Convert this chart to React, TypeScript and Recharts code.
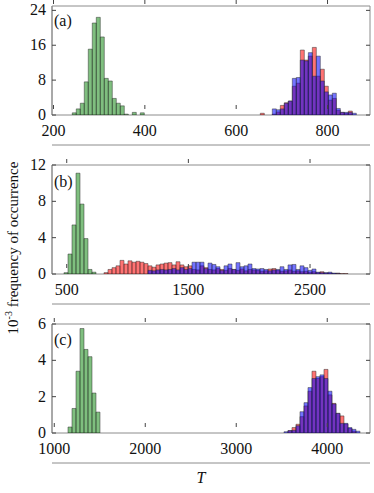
import { Bar, BarChart, ReferenceArea, XAxis, YAxis } from "recharts";

// panel (a)
const aXTicks = [200, 400, 600, 800];
const aYTicks = [0, 8, 16, 24];
const aGreen = [0.5, 1.4, 2.7, 7.6, 15.1, 21.1, 22.4, 17.9, 8.4, 7.8, 3.8, 2.7, 2.1, 0.2, 0, 0.6, 0, 0.5];
// red / blue start at bin 47
const aRed = [0.4, 0, 0, 0.2, 0.7, 2.2, 2.8, 3.2, 6.6, 7.3, 14.9, 12.6, 13.5, 15.5, 8.9, 10.5, 6.6, 3.4, 3.8, 1.1, 0.6, 0.4, 0.9, 0];
const aBlue = [0, 0, 0, 1.4, 1.2, 1.4, 2.7, 3.2, 8.4, 8.6, 12.6, 12.4, 14.3, 8.9, 13.5, 7.8, 5.3, 4.6, 5.0, 1.5, 0.6, 0.6, 0.6, 0.4];

// panel (b)
const bXTicks = [500, 1500, 2500];
const bYTicks = [0, 4, 8, 12];
const bGreen = [0.15, 2.2, 5.4, 11.1, 7.7, 3.9, 0.5, 0.2];
// red starts at bin 10
const bRed = [
  0.15, 0.5, 0.7, 0.9, 1.5, 1.1, 1.45, 1.3, 1.4, 1.3, 1.15, 0.9, 0.75, 1.0, 1.1, 1.2, 1.25, 1.0, 1.35, 1.0,
  0.8, 0.9, 0.5, 0.45, 0.9, 0.7, 0.5, 0.45, 0.6, 0.5, 0.4, 0.6, 0.5, 0.4, 0.55, 0.35, 0.5, 0.45, 0.4, 0.3,
  0.35, 0.55, 0.6, 0.4, 0.3, 0.35, 0.45, 0.3, 0.35, 0.25, 0.3, 0.2, 0.25, 0.15, 0.25, 0.1, 0.1, 0.05, 0.1, 0.05, 0.05,
];
// blue starts at bin 21
const bBlue = [
  0.4, 0.35, 0.45, 0.5, 0.45, 0.5, 0.6, 0.45, 0.7, 0.5, 0.6, 1.3, 1.3, 1.3, 0.6, 1.2, 1.05, 0.8, 0.4, 0.9,
  1.1, 0.5, 1.25, 0.8, 0.9, 1.1, 0.6, 0.55, 0.6, 0.5, 0.35, 0.45, 0.5, 0.8, 0.5, 1.0, 1.05, 0.5, 0.9, 0.7,
  0.4, 0.55, 0.2, 0.15, 0.15, 0.2, 0.1, 0.05,
];

// panel (c)
const cXTicks = [1000, 2000, 3000, 4000];
const cYTicks = [0, 2, 4, 6];
const cGreen = [0.33, 1.35, 3.4, 5.75, 4.6, 4.2, 2.2, 1.15];
// red / blue start at bin 54
const cRed = [0, 0.13, 0.3, 0.48, 0.9, 1.49, 2.3, 3.4, 3.0, 3.1, 3.5, 2.1, 1.63, 1.08, 0.94, 0.5, 0.25, 0.1, 0];
const cBlue = [0.07, 0.13, 0.15, 0.4, 1.17, 1.67, 2.5, 3.0, 3.1, 3.2, 3.0, 2.3, 1.6, 1.08, 0.53, 0.53, 0.3, 0.2, 0.1];

const PLOT_W = 318;
const PLOT_H = 109;
const AXIS_H = 36;
const TOP_PAD = 12;
const FONT = "'Liberation Serif', 'DejaVu Serif', serif";
const FRAME = "#8c8c8c";
const TICK = "#444";
const txt = { fontFamily: FONT, fontSize: 16, fill: "#111" };

type Series = { key: string; values: number[]; from: number };

function makeRows(start: number, width: number, count: number, series: Series[]) {
  const rows: Record<string, number | null>[] = [];
  for (let k = 0; k < count; k++) {
    const row: Record<string, number | null> = { x: start + (k + 0.5) * width };
    series.forEach((s) => {
      const v = s.values[k - s.from];
      row[s.key] = v ? v : null;
    });
    rows.push(row);
  }
  return rows;
}

const aRows = makeRows(241.1, 8.76, 71, [
  { key: "g", values: aGreen, from: 0 },
  { key: "r", values: aRed, from: 47 },
  { key: "b", values: aBlue, from: 47 },
]);
const bRows = makeRows(477.6, 32.88, 71, [
  { key: "g", values: bGreen, from: 0 },
  { key: "r", values: bRed, from: 10 },
  { key: "b", values: bBlue, from: 21 },
]);
const cRows = makeRows(1150.8, 43.96, 73, [
  { key: "g", values: cGreen, from: 0 },
  { key: "r", values: cRed, from: 54 },
  { key: "b", values: cBlue, from: 54 },
]);

// recharts hands the tick the bottom of the axis band, so step back up to the plot edge
const XTick = ({ x, y, payload }: any) => {
  const base = y - AXIS_H;
  return (
    <g>
      <line x1={x} x2={x} y1={base} y2={base - 4} stroke={TICK} />
      <line x1={x} x2={x} y1={base - PLOT_H} y2={base - PLOT_H + 4} stroke={TICK} />
      <text x={x} y={base + 27} textAnchor="middle" style={txt}>
        {payload.value}
      </text>
    </g>
  );
};

const YTick = ({ x, y, payload }: any) => (
  <g>
    <line x1={x} x2={x + 4} y1={y} y2={y} stroke={TICK} />
    <line x1={x + PLOT_W} x2={x + PLOT_W - 4} y1={y} y2={y} stroke={TICK} />
    <text x={x - 6} y={y + 5} textAnchor="end" style={txt}>
      {payload.value}
    </text>
  </g>
);

function Panel({ plotTop, rows, xDomain, yDomain, xTicks, yTicks }: any) {
  const edge = { stroke: "#2a2a2a", strokeWidth: 0.6, strokeOpacity: 0.8 };
  return (
    <div style={{ position: "absolute", left: 0, top: plotTop - TOP_PAD }}>
      <BarChart
        width={374}
        height={TOP_PAD + PLOT_H + AXIS_H}
        data={rows}
        margin={{ top: TOP_PAD, right: 4, bottom: 0, left: 0 }}
        barCategoryGap={0}
        barGap={0}
      >
        <XAxis
          xAxisId="g"
          dataKey="x"
          type="number"
          domain={xDomain}
          ticks={xTicks}
          interval={0}
          allowDataOverflow
          tick={XTick}
          tickLine={false}
          tickSize={0}
          tickMargin={0}
          axisLine={{ stroke: FRAME }}
          height={AXIS_H}
        />
        <XAxis xAxisId="r" dataKey="x" type="number" domain={xDomain} allowDataOverflow hide />
        <XAxis xAxisId="b" dataKey="x" type="number" domain={xDomain} allowDataOverflow hide />
        <YAxis
          type="number"
          domain={yDomain}
          ticks={yTicks}
          interval={0}
          allowDataOverflow
          tick={YTick}
          tickLine={false}
          tickSize={0}
          tickMargin={0}
          axisLine={{ stroke: FRAME }}
          width={52}
        />
        <Bar xAxisId="g" dataKey="g" fill="#008000" fillOpacity={0.5} {...edge} isAnimationActive={false} />
        <Bar xAxisId="r" dataKey="r" fill="#ff0000" fillOpacity={0.55} {...edge} isAnimationActive={false} />
        <Bar xAxisId="b" dataKey="b" fill="#0000ff" fillOpacity={0.55} {...edge} isAnimationActive={false} />
        <ReferenceArea
          xAxisId="g"
          x1={xDomain[0]}
          x2={xDomain[1]}
          y1={yDomain[0]}
          y2={yDomain[1]}
          fill="none"
          stroke={FRAME}
          ifOverflow="visible"
        />
      </BarChart>
    </div>
  );
}

export default function App() {
  return (
    <div
      style={{ position: "absolute", left: 0, top: 0, width: 374, height: 493, background: "#fff", overflow: "hidden" }}
    >
      <Panel plotTop={6} rows={aRows} xDomain={[196.7, 893]} yDomain={[0, 25]} xTicks={aXTicks} yTicks={aYTicks} />
      <Panel plotTop={165} rows={bRows} xDomain={[379, 2993]} yDomain={[0, 12]} xTicks={bXTicks} yTicks={bYTicks} />
      <Panel plotTop={324} rows={cRows} xDomain={[975, 4470]} yDomain={[0, 6]} xTicks={cXTicks} yTicks={cYTicks} />
      <svg width={374} height={493} style={{ position: "absolute", left: 0, top: 0, pointerEvents: "none" }}>
        <text x={54} y={26} style={txt}>(a)</text>
        <text x={54} y={187} style={txt}>(b)</text>
        <text x={54} y={345} style={txt}>(c)</text>
        <text transform="rotate(-90)" x={-248} y={18} textAnchor="middle" style={{ ...txt, fontSize: 15 }}>
          10
          <tspan dy={-6} style={{ fontSize: 10 }}>
            -3
          </tspan>
          <tspan dy={6}> frequency of occurrence</tspan>
        </text>
        <text x={201} y={483} textAnchor="middle" style={{ ...txt, fontStyle: "italic" }}>
          T
        </text>
      </svg>
    </div>
  );
}
